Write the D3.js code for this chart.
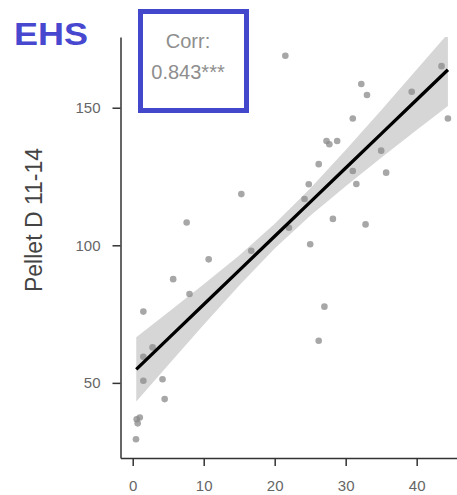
<!DOCTYPE html>
<html lang="en">
<head>
  <meta charset="utf-8">
  <title>EHS correlation</title>
  <script src="https://d3js.org/d3.v7.min.js"></script>
  <style>
    body { margin: 0; background: #fff; }
    .tick line, .domain { stroke: #333; stroke-width: 1.5px; }
  </style>
</head>
<body>
  <div id="chart"></div>
  <script>
    var w = 457, h = 495;

    // scatter points (x, y)
    var ptX = [21.5, 43.5, 32.2, 39.3, 33.0, 44.4, 31.0, 27.3, 27.7, 28.8,
               35.0, 26.2, 31.0, 35.7, 24.8, 31.5, 24.2, 28.2, 32.8, 22.0,
               15.3, 7.6, 16.7, 10.7, 5.7, 8.0, 1.5, 2.8, 1.5, 1.5,
               4.2, 4.5, 0.56, 1.0, 0.7, 0.46, 25.0, 27.0, 26.2];
    var ptY = [168.9, 165.1, 158.6, 155.8, 154.6, 146.1, 146.1, 137.9, 136.7, 137.9,
               134.4, 129.5, 127.0, 126.4, 122.2, 122.3, 116.8, 109.6, 107.6, 106.4,
               118.6, 108.3, 98.0, 94.9, 87.7, 82.3, 75.9, 62.9, 59.5, 50.8,
               51.3, 44.1, 36.8, 37.4, 35.3, 29.5, 100.4, 77.7, 65.3];

    // fitted line and confidence band
    var fitX  = [0.5, 5, 10, 15, 20, 25, 30, 35, 40, 44.4];
    var fitY  = [54.9, 66.1, 78.5, 90.9, 103.3, 115.7, 128.1, 140.5, 152.9, 163.8];
    var bandLo = [43.2, 56.5, 71.1, 85.4, 98.8, 110.7, 121.5, 131.8, 141.9, 150.6];
    var bandHi = [66.6, 75.7, 85.8, 96.3, 107.8, 120.6, 134.6, 149.1, 163.9, 176.9];

    var xTicks = [0, 10, 20, 30, 40];
    var yTicks = [50, 100, 150];
    var corrLines = ['Corr:', '0.843***'];

    var pLeft = 120.5, pRight = 457, pTop = 37, pBottom = 458;

    var x = d3.scaleLinear().domain([-1.72, 45.68]).range([pLeft, pRight]);
    var y = d3.scaleLinear().domain([22.7, 175.7]).range([pBottom, pTop]);

    var svg = d3.select('#chart').append('svg')
      .attr('width', w)
      .attr('height', h);

    svg.append('clipPath').attr('id', 'clip')
      .append('rect')
      .attr('x', pLeft).attr('y', pTop)
      .attr('width', pRight - pLeft).attr('height', pBottom - pTop);

    var plot = svg.append('g').attr('clip-path', 'url(#clip)');

    var band = fitX.map(function (d, i) { return { x: d, lo: bandLo[i], hi: bandHi[i], f: fitY[i] }; });

    plot.append('path')
      .datum(band)
      .attr('d', d3.area()
        .x(function (d) { return x(d.x); })
        .y0(function (d) { return y(d.lo); })
        .y1(function (d) { return y(d.hi); }))
      .style('fill', '#d6d6d6');

    plot.selectAll('circle.pt')
      .data(ptX)
      .enter().append('circle')
      .attr('class', 'pt')
      .attr('cx', function (d) { return x(d); })
      .attr('cy', function (d, i) { return y(ptY[i]); })
      .attr('r', 3.3)
      .style('fill', '#8a8a8a')
      .style('opacity', 0.75);

    plot.append('path')
      .datum(band)
      .attr('d', d3.line()
        .x(function (d) { return x(d.x); })
        .y(function (d) { return y(d.f); }))
      .style('fill', 'none')
      .style('stroke', '#000')
      .style('stroke-width', 3.3);

    // axes
    var gx = svg.append('g')
      .attr('transform', 'translate(0,' + pBottom + ')')
      .call(d3.axisBottom(x).tickValues(xTicks).tickSize(8).tickSizeOuter(0).tickPadding(14));

    var gy = svg.append('g')
      .attr('transform', 'translate(' + pLeft + ',0)')
      .call(d3.axisLeft(y).tickValues(yTicks).tickSize(8).tickSizeOuter(0).tickPadding(12));

    [gx, gy].forEach(function (g) {
      g.selectAll('.tick text')
        .style('font-family', '"Liberation Sans", Arial, sans-serif')
        .style('font-size', '15px')
        .style('fill', '#666');
    });

    // y label
    svg.append('text')
      .attr('transform', 'translate(42,220) rotate(-90)')
      .attr('text-anchor', 'middle')
      .style('font-family', '"Liberation Sans", Arial, sans-serif')
      .style('font-size', '23px')
      .style('fill', '#444')
      .text('Pellet D 11-14');

    // title
    svg.append('text')
      .attr('x', 14)
      .attr('y', 45)
      .attr('textLength', 74)
      .attr('lengthAdjust', 'spacingAndGlyphs')
      .style('font-family', '"Liberation Sans", Arial, sans-serif')
      .style('font-size', '31px')
      .style('font-weight', 'bold')
      .style('fill', '#4747cf')
      .text('EHS');

    // correlation box
    svg.append('rect')
      .attr('x', 140.5).attr('y', 11.5)
      .attr('width', 106).attr('height', 99)
      .style('fill', '#fff')
      .style('stroke', '#4347cc')
      .style('stroke-width', 5);

    svg.selectAll('text.corr')
      .data(corrLines)
      .enter().append('text')
      .attr('class', 'corr')
      .attr('x', 188)
      .attr('y', function (d, i) { return 48 + i * 31; })
      .attr('text-anchor', 'middle')
      .style('font-family', '"Liberation Sans", Arial, sans-serif')
      .style('font-size', '20px')
      .style('fill', '#8e8e8e')
      .text(function (d) { return d; });
  </script>
</body>
</html>
